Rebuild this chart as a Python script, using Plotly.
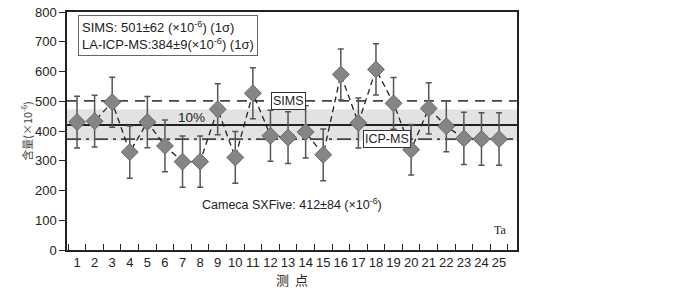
import plotly.graph_objects as go

points = list(range(1, 26))
ta_values = [430, 433, 497, 329, 430, 350, 297, 297, 473, 311, 527, 384, 378,
             397, 320, 590, 427, 607, 493, 337, 476, 416, 375, 373, 373]
ta_errors = [87, 87, 84, 88, 86, 87, 86, 86, 86, 87, 86, 86, 87,
             88, 87, 86, 84, 86, 87, 85, 86, 86, 88, 88, 88]

sims_level = 501
icpms_level = 373
cameca_level = 420
band_low, band_high = 368, 472

font_en = "Liberation Sans, Arial, sans-serif"
font_cn = "Noto Sans CJK SC, sans-serif"

fig = go.Figure()

fig.add_trace(go.Scatter(
    x=points, y=ta_values,
    mode="lines+markers",
    line=dict(color="#222222", width=1.3, dash="6px,4px"),
    marker=dict(symbol="diamond", size=13, color="#858585",
                line=dict(color="#6a6a6a", width=1)),
    error_y=dict(type="data", array=ta_errors, visible=True,
                 color="#555555", thickness=1.5, width=3),
    showlegend=False,
))

shapes = [
    dict(type="rect", xref="paper", yref="y", x0=0, x1=1, y0=band_low, y1=band_high,
         fillcolor="#e2e2e2", line=dict(width=0), layer="below"),
    dict(type="line", xref="paper", yref="y", x0=0, x1=1, y0=sims_level, y1=sims_level,
         line=dict(color="#444444", width=1.8, dash="10px,7px"), layer="below"),
    dict(type="line", xref="paper", yref="y", x0=0, x1=1, y0=cameca_level, y1=cameca_level,
         line=dict(color="#222222", width=2), layer="below"),
    dict(type="line", xref="paper", yref="y", x0=0, x1=1, y0=icpms_level, y1=icpms_level,
         line=dict(color="#444444", width=1.8, dash="14px,5px,3px,5px"), layer="below"),
]

annotations = [
    dict(text="SIMS: 501±62 (×10<sup>-6</sup>) (1σ)<br>LA-ICP-MS:384±9(×10<sup>-6</sup>) (1σ)",
         xref="x", yref="y", x=1.05, y=722, xanchor="left", yanchor="middle",
         showarrow=False, align="left", font=dict(family=font_en, size=13, color="#222"),
         bordercolor="#666666", borderwidth=1, borderpad=3, bgcolor="white"),
    dict(text="SIMS", xref="x", yref="y", x=13.05, y=sims_level, showarrow=False,
         font=dict(family=font_en, size=12.5, color="#222"),
         bordercolor="#333333", borderwidth=1, borderpad=1, bgcolor="white"),
    dict(text="10%", xref="x", yref="y", x=7.5, y=447, showarrow=False,
         font=dict(family=font_en, size=13.5, color="#222")),
    dict(text="ICP-MS", xref="x", yref="y", x=18.6, y=373, showarrow=False,
         font=dict(family=font_en, size=12.5, color="#222"),
         bordercolor="#333333", borderwidth=1, borderpad=1, bgcolor="white"),
    dict(text="Cameca SXFive: 412±84 (×10<sup>-6</sup>)", xref="x", yref="y", x=13.2, y=153,
         showarrow=False, font=dict(family=font_en, size=12.5, color="#222")),
    dict(text="Ta", xref="x", yref="y", x=25.05, y=68, showarrow=False,
         font=dict(family="Liberation Serif, serif", size=12, color="#222")),
]

fig.update_layout(
    width=700, height=289,
    margin=dict(l=67, r=183, t=5, b=39),
    paper_bgcolor="white", plot_bgcolor="white",
    shapes=shapes, annotations=annotations,
    xaxis=dict(
        range=[0.43, 26.02], tickvals=points, ticktext=[str(p) for p in points],
        ticks="", showgrid=False, zeroline=False,
        showline=True, linecolor="#222", linewidth=1.5, mirror=True,
        tickfont=dict(family=font_en, size=13, color="#222"),
        minor=dict(tick0=0.5, dtick=1, ticks="inside", ticklen=6,
                   tickcolor="#222", tickwidth=1.3, showgrid=False),
        title=dict(text="测  点", font=dict(family=font_cn, size=13, color="#222"), standoff=0),
    ),
    yaxis=dict(
        range=[0, 800], dtick=100, ticks="outside", ticklen=6, tickcolor="#222",
        tickwidth=1.3, showgrid=False, zeroline=False, ticklabeloverflow="allow",
        showline=True, linecolor="#222", linewidth=1.5, mirror=True,
        tickfont=dict(family=font_en, size=13, color="#222"),
        title=dict(text="含量(×10<sup>-6</sup>)", font=dict(family=font_cn, size=11, color="#444"),
                   standoff=0),
    ),
)

fig.write_html("out.html")
